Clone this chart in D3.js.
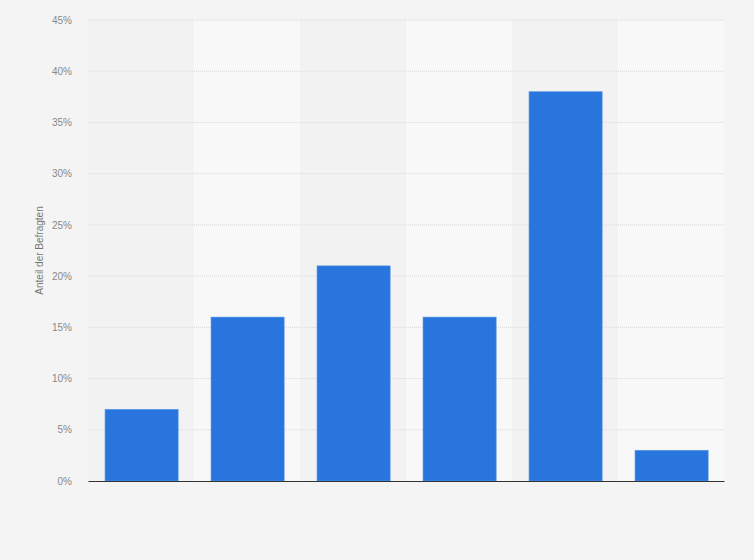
<!DOCTYPE html>
<html>
<head>
<meta charset="utf-8">
<script src="https://cdn.jsdelivr.net/npm/d3@7"></script>
<style>
  body { margin: 0; background: #f4f4f4; }
  svg { display: block; font-family: Arial, "Liberation Sans", sans-serif; }
</style>
</head>
<body>
<div id="chart"></div>
<script>
// categories have no visible labels in the reference
const categories = ["1", "2", "3", "4", "5", "6"]
const values = [7, 16, 21, 16, 38, 3]
const yTicks = [0, 5, 10, 15, 20, 25, 30, 35, 40, 45]

const W = 754, H = 560
const margin = {top: 20, right: 30, bottom: 79, left: 88}
const width = W - margin.left - margin.right
const height = H - margin.top - margin.bottom

const svg = d3.select("#chart").append("svg")
    .attr("width", W)
    .attr("height", H)

svg.append("rect")
    .attr("width", W).attr("height", H)
    .attr("fill", "#f4f4f4")

const g = svg.append("g")
    .attr("transform", "translate(" + margin.left + "," + margin.top + ")")

const x = d3.scaleBand()
    .domain(categories)
    .range([0, width])
    .paddingInner(0.31)
    .paddingOuter(0.155)

const y = d3.scaleLinear()
    .domain([0, 45])
    .range([height, 0])

// alternating column bands
const step = x.step()
g.selectAll(".band")
  .data(categories)
  .enter().append("rect")
    .attr("x", d => x(d) - x.paddingInner() * step / 2)
    .attr("y", 0)
    .attr("width", step)
    .attr("height", height)
    .attr("fill", (d, i) => i % 2 ? "#f8f8f8" : "#f2f2f2")

// gridlines
g.selectAll(".grid")
  .data(yTicks.slice(1))
  .enter().append("line")
    .attr("x1", 0).attr("x2", width)
    .attr("y1", d => y(d)).attr("y2", d => y(d))
    .attr("stroke", "#d8d8d8")
    .attr("stroke-width", 1)
    .attr("stroke-dasharray", "1,1")

// y axis labels
const yAxis = g.append("g")
    .call(d3.axisLeft(y).tickValues(yTicks).tickFormat(d => d + "%").tickSize(0).tickPadding(16))
yAxis.select(".domain").remove()
yAxis.selectAll("text")
    .attr("fill", "#888")
    .style("font-size", "10px")

// bars
g.selectAll(".bar")
  .data(values)
  .enter().append("rect")
    .attr("x", (d, i) => x(categories[i]) + 0.6)
    .attr("y", d => y(d))
    .attr("width", x.bandwidth())
    .attr("height", d => height - y(d))
    .attr("fill", "#2876dd")
    .attr("stroke", "#5c97e6")
    .attr("stroke-width", 0.6)

// baseline
const xAxis = g.append("g")
    .attr("transform", "translate(0," + height + ")")
    .call(d3.axisBottom(x).tickSize(0).tickFormat(""))
xAxis.select(".domain")
    .attr("stroke", "#333")
    .attr("stroke-width", 1.2)

// y axis title
svg.append("text")
    .attr("transform", "translate(43," + (margin.top + height / 2) + ") rotate(-90)")
    .attr("text-anchor", "middle")
    .attr("fill", "#777")
    .style("font-size", "10px")
    .text("Anteil der Befragten")
</script>
</body>
</html>
